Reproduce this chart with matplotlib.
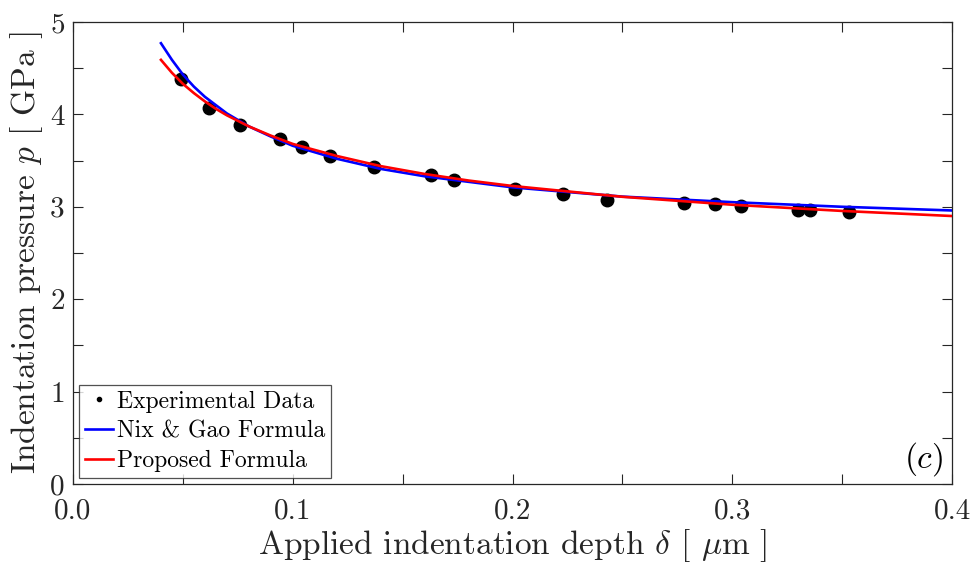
import matplotlib
matplotlib.use('Agg')
import matplotlib.pyplot as plt
from matplotlib.lines import Line2D

plt.rcParams['font.family'] = 'serif'
plt.rcParams['font.serif'] = ['cmr10']
plt.rcParams['mathtext.fontset'] = 'cm'
plt.rcParams['axes.formatter.use_mathtext'] = True

# experimental points (depth in um, pressure in GPa)
exp_depth = [0.049, 0.062, 0.076, 0.094, 0.104, 0.117, 0.137, 0.163, 0.1735, 0.201,
             0.223, 0.243, 0.278, 0.292, 0.304, 0.330, 0.3355, 0.353]
exp_p = [4.38, 4.07, 3.88, 3.73, 3.65, 3.55, 3.43, 3.34, 3.29, 3.19,
         3.14, 3.07, 3.04, 3.03, 3.01, 2.97, 2.96, 2.94]

# fitted curves
curve_depth = [0.04, 0.045, 0.05, 0.055, 0.06, 0.065, 0.07, 0.08, 0.09, 0.10,
               0.12, 0.14, 0.16, 0.18, 0.20, 0.25, 0.30, 0.35, 0.40]
nix_gao = [4.77, 4.59, 4.43, 4.30, 4.19, 4.10, 4.01, 3.87, 3.76, 3.66,
           3.52, 3.41, 3.33, 3.27, 3.21, 3.11, 3.05, 3.00, 2.96]
proposed = [4.59, 4.45, 4.33, 4.23, 4.14, 4.06, 3.99, 3.87, 3.77, 3.68,
            3.55, 3.44, 3.355, 3.284, 3.225, 3.108, 3.022, 2.955, 2.90]

fig = plt.figure(figsize=(9.74, 5.65), dpi=100)
ax = fig.add_axes([0.075, 0.1434, 0.9025, 0.8177])

ax.plot(exp_depth, exp_p, 'o', color='k', markersize=9, zorder=3)
ax.plot(curve_depth, nix_gao, '-', color='b', lw=1.9, zorder=4)
ax.plot(curve_depth, proposed, '-', color='r', lw=1.9, zorder=5)

ax.set_xlim(0, 0.4)
ax.set_ylim(0, 5)
xt = [0, 0.05, 0.1, 0.15, 0.2, 0.25, 0.3, 0.35, 0.4]
ax.set_xticks(xt)
ax.set_xticklabels(['%.1f' % v if abs(v * 10 - round(v * 10)) < 1e-9 else '' for v in xt])
yt = [0, 0.5, 1, 1.5, 2, 2.5, 3, 3.5, 4, 4.5, 5]
ax.set_yticks(yt)
ax.set_yticklabels(['%d' % v if v == int(v) else '' for v in yt])
ax.tick_params(direction='in', length=7, width=0.8, top=True, right=True,
               labelsize=21, colors='#262626', labelcolor='#262626')
ax.tick_params(axis='x', pad=10)
ax.tick_params(axis='y', pad=6)
for s in ax.spines.values():
    s.set_color('#262626')
    s.set_linewidth(0.9)

ax.set_xlabel(r'Applied indentation depth $\delta$ [ $\mu$m ]', fontsize=24, labelpad=2,
              color='#262626')
ax.set_ylabel(r'Indentation pressure $p$ [ GPa ]', fontsize=24, labelpad=4,
              color='#262626')

handles = [Line2D([], [], ls='none', marker='o', color='k', markersize=3),
           Line2D([], [], color='b', lw=1.9),
           Line2D([], [], color='r', lw=1.9)]
leg = ax.legend(handles, ['Experimental Data', 'Nix & Gao Formula', 'Proposed Formula'],
                loc='lower left', bbox_to_anchor=(0.007, 0.013), fontsize=17,
                frameon=True, fancybox=False, edgecolor='#262626',
                handlelength=1.2, handletextpad=0.15, labelspacing=0.32,
                borderpad=0.25, borderaxespad=0)
leg.get_frame().set_linewidth(0.9)

ax.text(0.99, 0.012, r'$(c)$', transform=ax.transAxes, ha='right', va='bottom', fontsize=24)

fig.savefig('out.png', dpi=100)
